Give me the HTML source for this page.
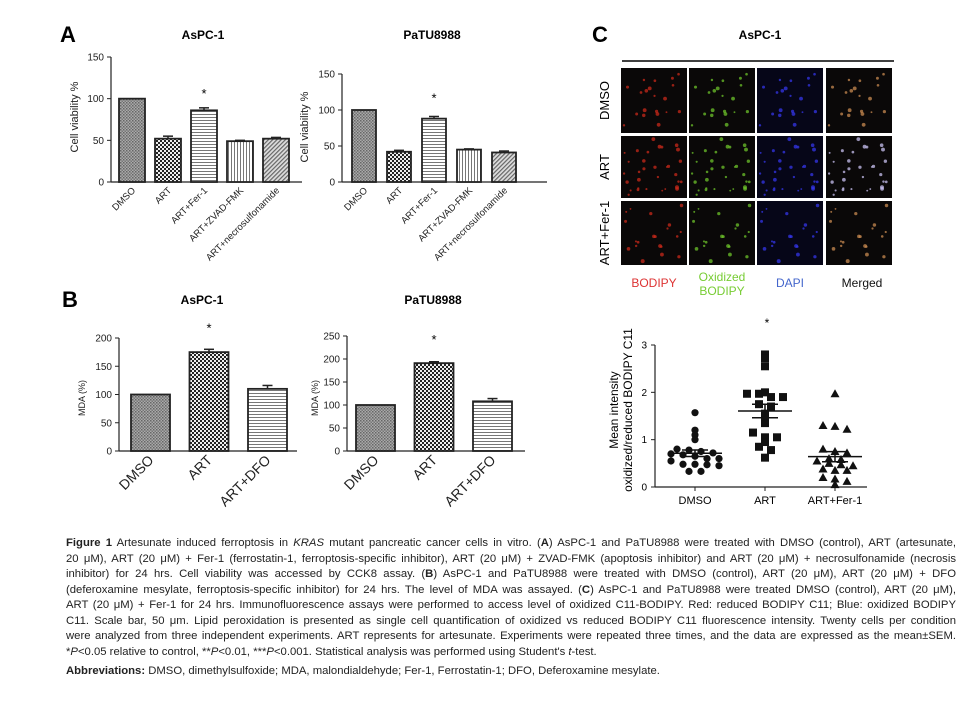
<!DOCTYPE html>
<html><head><meta charset="utf-8">
<style>
body{margin:0;background:#fff;width:975px;height:702px;overflow:hidden;font-family:"Liberation Sans",sans-serif;}
#cap{position:absolute;left:66px;top:536px;width:890px;font-size:11.3px;color:#222;line-height:15.5px;}
#cap div{text-align:justify;text-align-last:justify;white-space:nowrap;}
#cap div.last{text-align-last:left;}
</style></head><body>
<svg id="fig" width="975" height="530" style="position:absolute;left:0;top:0" font-family="Liberation Sans, sans-serif">
<defs>
<pattern id="pDmso" width="3" height="3" patternUnits="userSpaceOnUse"><rect width="3" height="3" fill="#aaa"/><rect width="1.5" height="1.5" fill="#666"/><rect x="1.5" y="1.5" width="1.5" height="1.5" fill="#777"/></pattern>
<pattern id="pArt" width="4" height="4" patternUnits="userSpaceOnUse"><rect width="4" height="4" fill="#eee"/><rect width="2" height="2" fill="#222"/><rect x="2" y="2" width="2" height="2" fill="#222"/></pattern>
<pattern id="pH" width="4" height="3" patternUnits="userSpaceOnUse"><rect width="4" height="3" fill="#fff"/><rect width="4" height="1" fill="#777"/></pattern>
<pattern id="pV" width="3" height="4" patternUnits="userSpaceOnUse"><rect width="3" height="4" fill="#fff"/><rect width="1" height="4" fill="#777"/></pattern>
<pattern id="pD" width="3" height="3" patternUnits="userSpaceOnUse" patternTransform="rotate(45)"><rect width="3" height="3" fill="#ddd"/><rect width="1.2" height="3" fill="#666"/></pattern>
</defs>
<text x="60" y="42" font-size="22" font-weight="bold">A</text>
<text x="203" y="39" font-size="12" font-weight="bold" text-anchor="middle">AsPC-1</text>
<text x="432" y="39" font-size="12" font-weight="bold" text-anchor="middle">PaTU8988</text>
<text x="62" y="307" font-size="22" font-weight="bold">B</text>
<text x="202" y="304" font-size="12" font-weight="bold" text-anchor="middle">AsPC-1</text>
<text x="433" y="304" font-size="12" font-weight="bold" text-anchor="middle">PaTU8988</text>
<text x="592" y="42" font-size="22" font-weight="bold">C</text>
<text x="760" y="39" font-size="12" font-weight="bold" text-anchor="middle">AsPC-1</text>
<line x1="622" y1="61" x2="894" y2="61" stroke="#000" stroke-width="1.5"/>
<g id="micro"></g>
<text x="654" y="287" font-size="12" fill="#d33" text-anchor="middle">BODIPY</text>
<text x="722" y="281" font-size="12" fill="#7c3" text-anchor="middle">Oxidized</text>
<text x="722" y="295" font-size="12" fill="#7c3" text-anchor="middle">BODIPY</text>
<text x="790" y="287" font-size="12" fill="#4466cc" text-anchor="middle">DAPI</text>
<text x="862" y="287" font-size="12" fill="#111" text-anchor="middle">Merged</text>
<g id="charts"></g>
</svg>
<div id="cap">
<div><b>Figure 1</b> Artesunate induced ferroptosis in <i>KRAS</i> mutant pancreatic cancer cells in vitro. (<b>A</b>) AsPC-1 and PaTU8988 were treated with DMSO (control), ART (artesunate,</div>
<div>20 μM), ART (20 μM) + Fer-1 (ferrostatin-1, ferroptosis-specific inhibitor), ART (20 μM) + ZVAD-FMK (apoptosis inhibitor) and ART (20 μM) + necrosulfonamide (necrosis</div>
<div>inhibitor) for 24 hrs. Cell viability was accessed by CCK8 assay. (<b>B</b>) AsPC-1 and PaTU8988 were treated with DMSO (control), ART (20 μM), ART (20 μM) + DFO</div>
<div>(deferoxamine mesylate, ferroptosis-specific inhibitor) for 24 hrs. The level of MDA was assayed. (<b>C</b>) AsPC-1 and PaTU8988 were treated DMSO (control), ART (20 μM),</div>
<div>ART (20 μM) + Fer-1 for 24 hrs. Immunofluorescence assays were performed to access level of oxidized C11-BODIPY. Red: reduced BODIPY C11; Blue: oxidized BODIPY</div>
<div>C11. Scale bar, 50 μm. Lipid peroxidation is presented as single cell quantification of oxidized vs reduced BODIPY C11 fluorescence intensity. Twenty cells per condition</div>
<div>were analyzed from three independent experiments. ART represents for artesunate. Experiments were repeated three times, and the data are expressed as the mean±SEM.</div>
<div class="last">*<i>P</i>&lt;0.05 relative to control, **<i>P</i>&lt;0.01, ***<i>P</i>&lt;0.001. Statistical analysis was performed using Student's <i>t</i>-test.</div>
<div class="last" style="margin-top:4px"><b>Abbreviations:</b> DMSO, dimethylsulfoxide; MDA, malondialdehyde; Fer-1, Ferrostatin-1; DFO, Deferoxamine mesylate.</div>
</div>
<script>
const aCats=["DMSO","ART","ART+Fer-1","ART+ZVAD-FMK","ART+necrosulfonamide"];
const aAspcVals=[100,52,86,49,52];
const aAspcErr=[0,3,3,1,1.5];
const aPatuVals=[100,42,88,45,41];
const aPatuErr=[0,2,3,1,2];
const aTicks=[0,50,100,150];
const bCats=["DMSO","ART","ART+DFO"];
const bAspcVals=[100,175,110];
const bAspcErr=[0,5,6];
const bAspcTicks=[0,50,100,150,200];
const bPatuVals=[100,191,108];
const bPatuErr=[0,3,6];
const bPatuTicks=[0,50,100,150,200,250];
const cCats=["DMSO","ART","ART+Fer-1"];
const cDmso=[1.57,1.2,1.1,1.0,0.8,0.78,0.75,0.72,0.7,0.68,0.65,0.6,0.6,0.55,0.48,0.48,0.47,0.45,0.33,0.33];
const cArt=[2.8,2.72,2.55,2.0,1.97,1.97,1.9,1.9,1.75,1.7,1.55,1.5,1.35,1.15,1.05,1.05,0.95,0.85,0.78,0.62];
const cFer=[1.97,1.3,1.28,1.22,0.8,0.75,0.72,0.6,0.58,0.55,0.5,0.47,0.45,0.38,0.35,0.35,0.2,0.17,0.12,0.05];
const cTicks=[0,1,2,3];

const NS="http://www.w3.org/2000/svg";
const root=document.getElementById('charts');
function mk(tag,at,parent){const e=document.createElementNS(NS,tag);for(const k in at)e.setAttribute(k,at[k]);(parent||root).appendChild(e);return e;}

function barChart(o){
  const g=mk('g',{});
  
  
  const yS=v=>o.y0-(v/o.max)*(o.y0-o.yTop);
  const ax=mk('line',{x1:o.ax,y1:o.yTop,x2:o.ax,y2:o.y0,stroke:'#222','stroke-width':1.2},g);
  
  
  const xa=mk('line',{x1:o.ax,y1:o.y0,x2:o.xEnd,y2:o.y0,stroke:'#222','stroke-width':1.2},g);
  
  
  o.ticks.forEach(t=>{
    mk('line',{x1:o.ax-4,y1:yS(t),x2:o.ax,y2:yS(t),stroke:'#222'},g);
    const tx=mk('text',{x:o.ax-7,y:yS(t)+3.5,'font-size':o.tfs,'text-anchor':'end',fill:'#222'},g);
    tx.textContent=t;
    
    
  });
  const yl=mk('text',{transform:`translate(${o.ylx},${o.yly}) rotate(-90)`,'font-size':o.ylfs,'text-anchor':'middle',fill:'#222'},g);
  yl.textContent=o.ylab;
  
  
  o.vals.forEach((v,i)=>{
    const x=o.first+i*o.sp, cx=x+o.w/2;
    const r=mk('rect',{x:x,y:yS(v),width:o.w,height:o.y0-yS(v),fill:`url(#${o.pats[i]})`,stroke:'#222','stroke-width':1.8},g);
    
    
    if(o.err[i]>0){
      const et=yS(v+o.err[i]);
      mk('line',{x1:cx,y1:yS(v),x2:cx,y2:et,stroke:'#222','stroke-width':1.5},g);
      mk('line',{x1:cx-5,y1:et,x2:cx+5,y2:et,stroke:'#222','stroke-width':1.5},g);
    }
    if(o.star===i){
      const s=mk('text',{x:cx,y:yS(v+o.err[i])-o.starOff,'font-size':13,'text-anchor':'middle'},g);
      s.textContent='*';
      
      
    }
    const lb=mk('text',{transform:`translate(${cx+4},${o.y0+o.lOff}) rotate(-45)`,'font-size':o.lfs,'text-anchor':'end',fill:'#222'},g);
    lb.textContent=o.cats[i];
    
    
  });
}
const pA=['pDmso','pArt','pH','pV','pD'];
barChart({name:'chart-a-aspc',cats:aCats,vals:aAspcVals,err:aAspcErr,ticks:aTicks,max:150,ax:111,y0:182,yTop:57,xEnd:302,first:119,sp:36,w:26,pats:pA,star:2,starOff:10,tfs:10,ylab:'Cell viability %',ylx:78,yly:117,ylfs:11,lfs:9.5,lOff:9});
barChart({name:'chart-a-patu',cats:aCats,vals:aPatuVals,err:aPatuErr,ticks:aTicks,max:150,ax:342,y0:182,yTop:74,xEnd:547,first:352,sp:35,w:24,pats:pA,star:2,starOff:14,tfs:10,ylab:'Cell viability %',ylx:308,yly:127,ylfs:11,lfs:9.5,lOff:9});
const pB=['pDmso','pArt','pH'];
barChart({name:'chart-b-aspc',cats:bCats,vals:bAspcVals,err:bAspcErr,ticks:bAspcTicks,max:200,ax:119,y0:451,yTop:338,xEnd:297,first:131,sp:58.5,w:39,pats:pB,star:1,starOff:17,tfs:10,ylab:'MDA (%)',ylx:85,yly:398,ylfs:9,lfs:14,lOff:10});
barChart({name:'chart-b-patu',cats:bCats,vals:bPatuVals,err:bPatuErr,ticks:bPatuTicks,max:250,ax:347,y0:451,yTop:336,xEnd:525,first:356,sp:58.5,w:39,pats:pB,star:1,starOff:18,tfs:10,ylab:'MDA (%)',ylx:318,yly:398,ylfs:9,lfs:14,lOff:10});

// scatter
(function(){
  const g=mk('g',{});
  
  
  const ax=655,y0=487,yTop=345,max=3;
  const yS=v=>y0-(v/max)*(y0-yTop);
  const xS=i=>695+i*70;
  mk('line',{x1:ax,y1:yTop,x2:ax,y2:y0,stroke:'#222','stroke-width':1.2},g);
  mk('line',{x1:ax,y1:y0,x2:867,y2:y0,stroke:'#222','stroke-width':1.2},g);
  cTicks.forEach(t=>{
    mk('line',{x1:ax-4,y1:yS(t),x2:ax,y2:yS(t),stroke:'#222'},g);
    const tx=mk('text',{x:ax-8,y:yS(t)+3.5,'font-size':10,'text-anchor':'end'},g);tx.textContent=t;
    
    
  });
  cCats.forEach((c,i)=>{
    mk('line',{x1:xS(i),y1:y0,x2:xS(i),y2:y0+4,stroke:'#222'},g);
    const tx=mk('text',{x:xS(i),y:y0+17,'font-size':11,'text-anchor':'middle'},g);tx.textContent=c;
    
    
  });
  const l1=mk('text',{transform:'translate(618,410) rotate(-90)','font-size':12,'text-anchor':'middle'},g);l1.textContent='Mean intensity';
  
  
  const l2=mk('text',{transform:'translate(632,410) rotate(-90)','font-size':12,'text-anchor':'middle'},g);l2.textContent='oxidized/reduced BODIPY C11';
  
  
  const st=mk('text',{x:767,y:327,'font-size':12,'text-anchor':'middle'},g);st.textContent='*';
  
  
  [cDmso,cArt,cFer].forEach((arr,i)=>{
    // beeswarm-like: bin points into vertical bands, spread horizontally within band
    const bands={};
    arr.forEach(v=>{const b=Math.round(v/0.16);bands[b]=(bands[b]||0)+1;});
    const seen={};
    arr.forEach(v=>{
      const b=Math.round(v/0.16);
      const n=bands[b], pos=(seen[b]=(seen[b]||0)+1)-1;
      const x=xS(i)+(pos-(n-1)/2)*12;
      const y=yS(v);
      let m;
      if(i===0)m=mk('circle',{cx:x,cy:y,r:3.6,fill:'#111'},g);
      else if(i===1)m=mk('rect',{x:x-4,y:y-4,width:8,height:8,fill:'#111'},g);
      else m=mk('path',{d:`M${x},${y-4.5}L${x+4.5},${y+3.5}L${x-4.5},${y+3.5}Z`,fill:'#111'},g);
      
      
    });
    const mean=arr.reduce((a,b)=>a+b,0)/arr.length;
    const sd=Math.sqrt(arr.reduce((a,b)=>a+(b-mean)**2,0)/(arr.length-1));
    const sem=sd/Math.sqrt(arr.length);
    mk('line',{x1:xS(i)-27,y1:yS(mean),x2:xS(i)+27,y2:yS(mean),stroke:'#111','stroke-width':1.5},g);
    mk('line',{x1:xS(i),y1:yS(mean-sem),x2:xS(i),y2:yS(mean+sem),stroke:'#111','stroke-width':1.5},g);
    mk('line',{x1:xS(i)-13,y1:yS(mean+sem),x2:xS(i)+13,y2:yS(mean+sem),stroke:'#111','stroke-width':1.5},g);
    mk('line',{x1:xS(i)-13,y1:yS(mean-sem),x2:xS(i)+13,y2:yS(mean-sem),stroke:'#111','stroke-width':1.5},g);
  });
})();

// microscopy grid
(function(){
  const mg=document.getElementById('micro');
  const cols=[621,689,757,826], rows=[68,136,201], heights=[65,62,64], w=66;
  const rowNames=['DMSO','ART','ART+Fer-1'];
  const colColors=['#c8281a','#6cc22a','#3436e8','#c88a50'];
  const mergedArt='#c8c0f0';
  let seed=7;const rnd=()=>{seed=(seed*16807)%2147483647;return seed/2147483647;};
  rows.forEach((ry,r)=>{
    const lbl=mk('text',{transform:`translate(${609},${ry+heights[r]/2}) rotate(-90)`,'font-size':13,'text-anchor':'middle'},mg);
    lbl.textContent=rowNames[r];
    
    
    const n=r===1?32:20;
    const pts=[];for(let k=0;k<n;k++)pts.push([rnd()*(w-6)+3,rnd()*(heights[r]-6)+3,0.9+rnd()*1.1]);
    cols.forEach((cx,c)=>{
      const bg=mk('rect',{x:cx,y:ry,width:w,height:heights[r],fill:c===2?'#060618':'#0a0808'},mg);
      
      
      const col=(c===3&&r===1)?mergedArt:colColors[c];
      pts.forEach(p=>mk('circle',{cx:cx+p[0],cy:ry+p[1],r:p[2],fill:col,opacity:0.75},mg));
    });
  });
})();
</script>
</body></html>
